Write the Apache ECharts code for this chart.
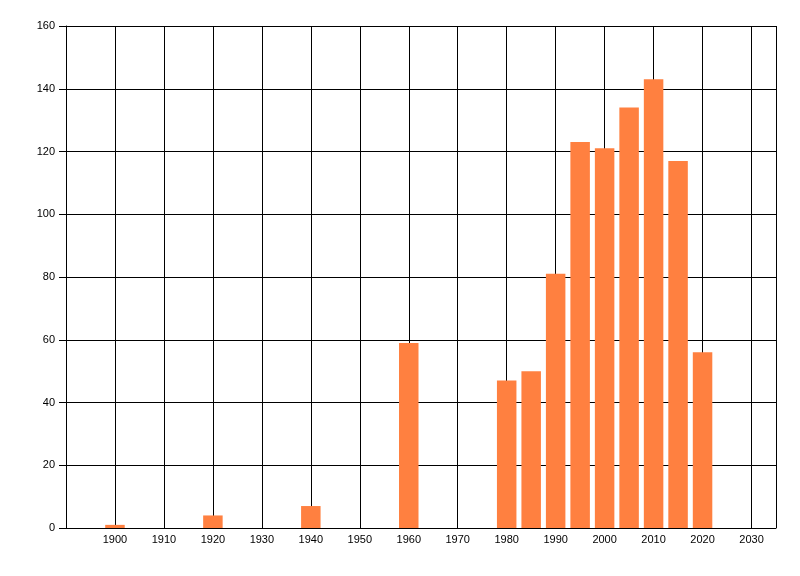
<!DOCTYPE html>
<html>
<head>
<meta charset="utf-8">
<script src="https://cdn.jsdelivr.net/npm/echarts@6/dist/echarts.min.js"></script>
<style>html,body{margin:0;padding:0;background:#fff}#c{width:800px;height:576px}</style>
</head>
<body>
<div id="c"></div>
<script>
var years = [1900, 1920, 1940, 1960, 1980, 1985, 1990, 1995, 2000, 2005, 2010, 2015, 2020];
var counts = [1, 4, 7, 59, 47, 50, 81, 123, 121, 134, 143, 117, 56];
var xTicks = [1900, 1910, 1920, 1930, 1940, 1950, 1960, 1970, 1980, 1990, 2000, 2010, 2020, 2030];
var yTicks = [0, 20, 40, 60, 80, 100, 120, 140, 160];

var chart = echarts.init(document.getElementById('c'), null, {renderer: 'canvas'});
var font = 'Liberation Sans, Arial, sans-serif';
chart.setOption({
  animation: false,
  grid: {left: 66, right: 24, top: 26, bottom: 48, containLabel: false},
  xAxis: {
    type: 'value', min: 1890, max: 2035, interval: 10,
    axisLine: {show: true, onZero: false, lineStyle: {color: '#000', width: 1}},
    axisTick: {show: false},
    axisLabel: {
      color: '#000', fontSize: 11, fontFamily: font, margin: 6,
      customValues: xTicks, formatter: function (v) { return String(v); }
    },
    splitLine: {show: true, lineStyle: {color: '#000', width: 1}},
    axisPointer: {show: false}
  },
  yAxis: {
    type: 'value', min: 0, max: 160, interval: 20,
    axisLine: {show: true, lineStyle: {color: '#000', width: 1}},
    axisTick: {show: true, length: 7, lineStyle: {color: '#000'}},
    axisLabel: {color: '#000', fontSize: 11, fontFamily: font, margin: 11,
      customValues: yTicks},
    splitLine: {show: true, lineStyle: {color: '#000', width: 1}}
  },
  series: [{
    type: 'bar',
    data: years.map(function (y, i) { return [y, counts[i]]; }),
    barWidth: 19.5,
    itemStyle: {color: '#FF8040'},
    z: 3
  }]
});
</script>
</body>
</html>
